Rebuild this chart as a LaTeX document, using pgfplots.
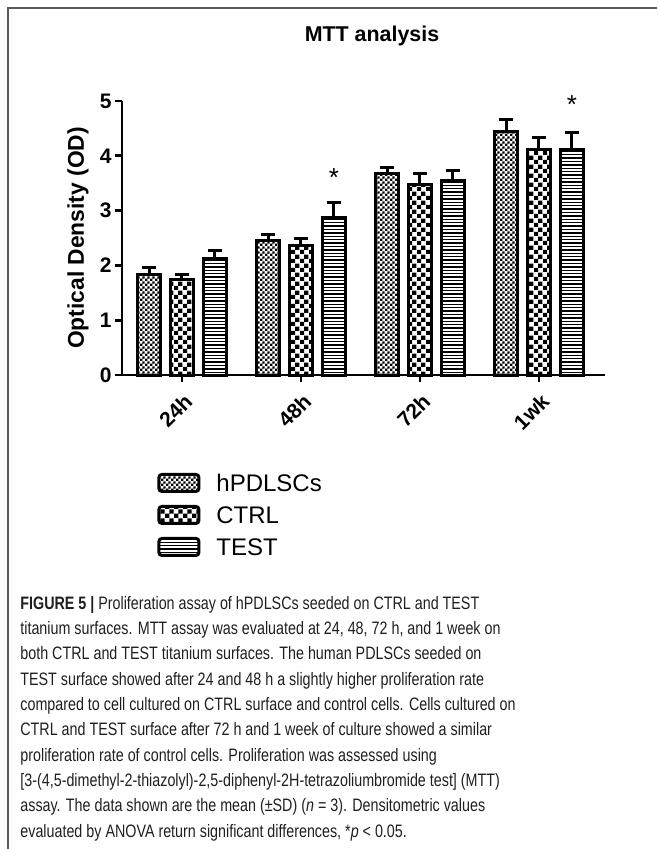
\documentclass[border=0pt]{standalone}
\usepackage{fontspec}
\setmainfont{Liberation Sans}
\newfontfamily\capfont[FakeStretch=0.795]{Liberation Sans}
\usepackage{pgfplots}
\usepackage{pgfplotstable}
\pgfplotsset{compat=1.18}
\usetikzlibrary{patterns}

\pgfdeclarepatternformonly{finecheck}{\pgfqpoint{0pt}{0pt}}{\pgfqpoint{2.6pt}{2.6pt}}{\pgfqpoint{2.6pt}{2.6pt}}{%
  \pgfpathrectangle{\pgfqpoint{0pt}{0pt}}{\pgfqpoint{1.3pt}{1.3pt}}%
  \pgfpathrectangle{\pgfqpoint{1.3pt}{1.3pt}}{\pgfqpoint{1.3pt}{1.3pt}}%
  \pgfusepath{fill}}
\pgfdeclarepatternformonly{bigcheck}{\pgfqpoint{0pt}{0pt}}{\pgfqpoint{4.6pt}{4.6pt}}{\pgfqpoint{4.6pt}{4.6pt}}{%
  \pgfpathrectangle{\pgfqpoint{0pt}{0pt}}{\pgfqpoint{2.3pt}{2.3pt}}%
  \pgfpathrectangle{\pgfqpoint{2.3pt}{2.3pt}}{\pgfqpoint{2.3pt}{2.3pt}}%
  \pgfusepath{fill}}
\pgfdeclarepatternformonly{hlines}{\pgfqpoint{-0.1pt}{0pt}}{\pgfqpoint{1.1pt}{1.7pt}}{\pgfqpoint{1pt}{1.7pt}}{%
  \pgfpathrectangle{\pgfqpoint{-0.1pt}{0pt}}{\pgfqpoint{1.2pt}{0.7pt}}%
  \pgfusepath{fill}}

\pgfplotstableread{
x y e
0 1.83 0.13
1 2.46 0.11
2 3.68 0.11
3 4.44 0.22
}\hpdl
\pgfplotstableread{
x y e
0 1.74 0.10
1 2.36 0.13
2 3.47 0.20
3 4.12 0.22
}\ctrl
\pgfplotstableread{
x y e
0 2.13 0.15
1 2.88 0.26
2 3.55 0.19
3 4.12 0.31
}\test

\begin{document}
\begin{tikzpicture}[x=0.5pt,y=-0.5pt]
\path[use as bounding box] (0,0) rectangle (657,849);
\draw[black!65,line width=0.75pt] (657,8) -- (8,8) -- (8,849);
\coordinate (O) at (122,375);

\node[font=\bfseries\fontsize{10.7}{12}\selectfont] at (372,36) {MTT analysis};
\node[font=\bfseries\fontsize{11.4}{13}\selectfont,rotate=90] at (78,238) {Optical Density (OD)};

\begin{axis}[
  at={(O)}, anchor=south west,
  scale only axis, width=241.5pt, height=137pt,
  xmin=-0.504, xmax=3.555, ymin=0, ymax=5,
  axis lines=left,
  axis line style={-, line width=1.4pt},
  tick align=outside,
  major tick length=3.5pt,
  tick style={line width=1.4pt, black},
  xtick={0,1,2,3},
  xticklabels={24h,48h,72h,1wk},
  ytick={0,1,2,3,4,5},
  /pgf/number format/assume math mode=true,
  ticklabel style={font=\bfseries\fontsize{10.5}{12}\selectfont},
  yticklabel style={inner sep=1.5pt},
  xticklabel style={yshift=-7pt, xshift=4pt, rotate=45, anchor=east, inner sep=1pt},
  clip=false,
  ybar,
  bar width=0.193,
  legend style={at={(0.0725,-0.356)}, anchor=north west, draw=none, fill=none,
    inner sep=0pt, row sep=4.75pt,
    nodes={inner sep=0pt, text height=9pt, text depth=2pt, anchor=base west},
    font=\fontsize{12}{14}\selectfont,
    /tikz/every odd column/.append style={column sep=8pt}},
  legend cell align=left,
  legend image code/.code={\draw[#1,rounded corners=1.5pt] (0pt,0pt) rectangle (20pt,8.5pt);},
]
\addplot[bar shift=-0.277, draw=black, line width=1.5pt, pattern=finecheck, pattern color=black,
  error bars/.cd, y dir=plus, y explicit,
  error bar style={line width=1.5pt, black},
  error mark options={rotate=90, mark size=3.3pt, line width=1.5pt, black}]
  table[x=x,y=y,y error=e]{\hpdl};
\addplot[bar shift=0, draw=black, line width=1.5pt, pattern=bigcheck, pattern color=black,
  error bars/.cd, y dir=plus, y explicit,
  error bar style={line width=1.5pt, black},
  error mark options={rotate=90, mark size=3.3pt, line width=1.5pt, black}]
  table[x=x,y=y,y error=e]{\ctrl};
\addplot[bar shift=0.277, draw=black, line width=1.5pt, pattern=hlines, pattern color=black,
  error bars/.cd, y dir=plus, y explicit,
  error bar style={line width=1.5pt, black},
  error mark options={rotate=90, mark size=3.3pt, line width=1.5pt, black}]
  table[x=x,y=y,y error=e]{\test};
\legend{hPDLSCs,CTRL,TEST}
\node[font=\fontsize{13}{14}\selectfont] at (axis cs:1.277,3.61) {*};
\node[font=\fontsize{13}{14}\selectfont] at (axis cs:3.277,4.93) {*};
\end{axis}

\node[anchor=base west, align=left, inner sep=0pt, text=black!88,
  font=\capfont\fontsize{9}{12.65}\selectfont] at (20,837) {%
\textbf{FIGURE 5 |} Proliferation assay of hPDLSCs seeded on CTRL and TEST\\
titanium surfaces. MTT assay was evaluated at 24, 48, 72 h, and 1 week on\\
both CTRL and TEST titanium surfaces. The human PDLSCs seeded on\\
TEST surface showed after 24 and 48 h a slightly higher proliferation rate\\
compared to cell cultured on CTRL surface and control cells. Cells cultured on\\
CTRL and TEST surface after 72 h and 1 week of culture showed a similar\\
proliferation rate of control cells. Proliferation was assessed using\\
{[}3-(4,5-dimethyl-2-thiazolyl)-2,5-diphenyl-2H-tetrazoliumbromide test{]} (MTT)\\
assay. The data shown are the mean (±SD) (\textit{n} = 3). Densitometric values\\
evaluated by ANOVA return significant differences, *\textit{p} < 0.05.};
\end{tikzpicture}
\end{document}
